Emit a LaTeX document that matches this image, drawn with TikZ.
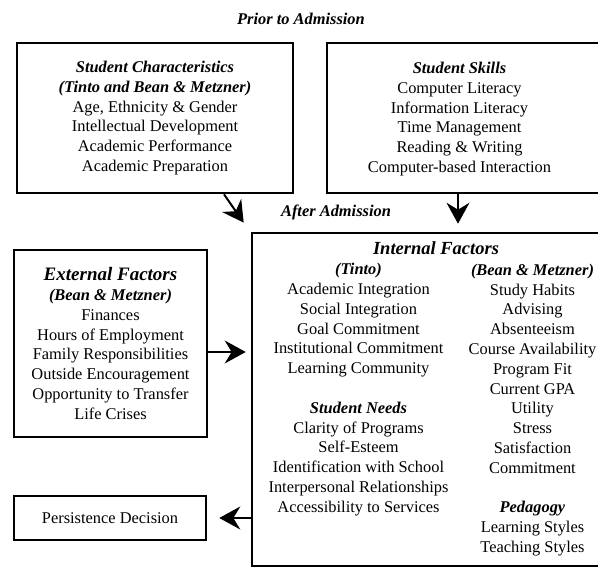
\documentclass[tikz,border=0pt]{standalone}
\usepackage{fontspec}
\setmainfont{Liberation Serif}
\usetikzlibrary{arrows.meta}
\newcommand\boxfont{\fontsize{16.4}{19.8}\selectfont}
\newcommand\bigfont{\fontsize{19}{20}\selectfont}
\newcommand\bihd[1]{\textbf{\textit{#1}}}

\begin{document}
\begin{tikzpicture}[x=1pt,y=-1pt,
  box/.style={draw,line width=2.6pt,inner sep=0pt,align=center,font=\boxfont},
  txt/.style={inner sep=0pt,align=center,font=\boxfont},
  arr/.style={line width=2pt,-{Stealth[length=21pt,width=23pt,inset=7pt]}}]
  \useasboundingbox (0,0) rectangle (598,568);

  \node[txt] (prior) at (301,19) {\bihd{Prior to Admission}};
  \node[txt] (after) at (336,212) {\bihd{After Admission}};

  \node[box,minimum width=276pt,minimum height=150pt] (chars) at (155,118)
    {\bihd{Student Characteristics}\\ \bihd{(Tinto and Bean \& Metzner)}\\
     Age, Ethnicity \& Gender\\ Intellectual Development\\
     Academic Performance\\ Academic Preparation};

  \node[box,minimum width=278pt,minimum height=150pt] (skills) at (466,118) {};
  \node[txt] (skillstxt) at (459.5,119)
    {\bihd{Student Skills}\\ Computer Literacy\\ Information Literacy\\
     Time Management\\ Reading \& Writing\\ Computer-based Interaction};

  \node[box,minimum width=193pt,minimum height=187pt] (external) at (110.5,343.5)
    {{\bigfont\bihd{External Factors}}\\ \bihd{(Bean \& Metzner)}\\ Finances\\
     Hours of Employment\\ Family Responsibilities\\ Outside Encouragement\\
     Opportunity to Transfer\\ Life Crises};

  \node[box,minimum width=192pt,minimum height=44pt] (persist) at (110,518)
    {Persistence Decision};

  \node[box,minimum width=353pt,minimum height=333pt] (internal) at (428.5,399.5) {};
  \node[txt,font=\fontsize{18.5}{20}\selectfont] (inthead) at (436,248)
    {\bihd{Internal Factors}};
  \node[txt] (tinto) at (358.5,389.5)
    {\bihd{(Tinto)}\\ Academic Integration\\ Social Integration\\ Goal Commitment\\
     Institutional Commitment\\ Learning Community\\[19.8pt]
     \bihd{Student Needs}\\ Clarity of Programs\\ Self-Esteem\\
     Identification with School\\ Interpersonal Relationships\\
     Accessibility to Services};
  \node[txt] (bean) at (532.5,410)
    {\bihd{(Bean \& Metzner)}\\ Study Habits\\ Advising\\ Absenteeism\\
     Course Availability\\ Program Fit\\ Current GPA\\ Utility\\ Stress\\
     Satisfaction\\ Commitment\\[19.8pt]
     \bihd{Pedagogy}\\ Learning Styles\\ Teaching Styles};

  \draw[arr] ([xshift=69pt]chars.south) -- ([shift={(-7,-9)}]internal.north west);
  \draw[arr] ([xshift=-8pt]skills.south) -- ([xshift=-8pt,yshift=8pt]skills.south |- internal.north);
  \draw[arr,shorten >=5pt] ([yshift=-8.5pt]external.east) -- ([yshift=-8.5pt]external.east -| internal.west);
  \draw[arr,shorten >=12pt] (persist.east -| internal.west) -- (persist.east);
\end{tikzpicture}
\end{document}
